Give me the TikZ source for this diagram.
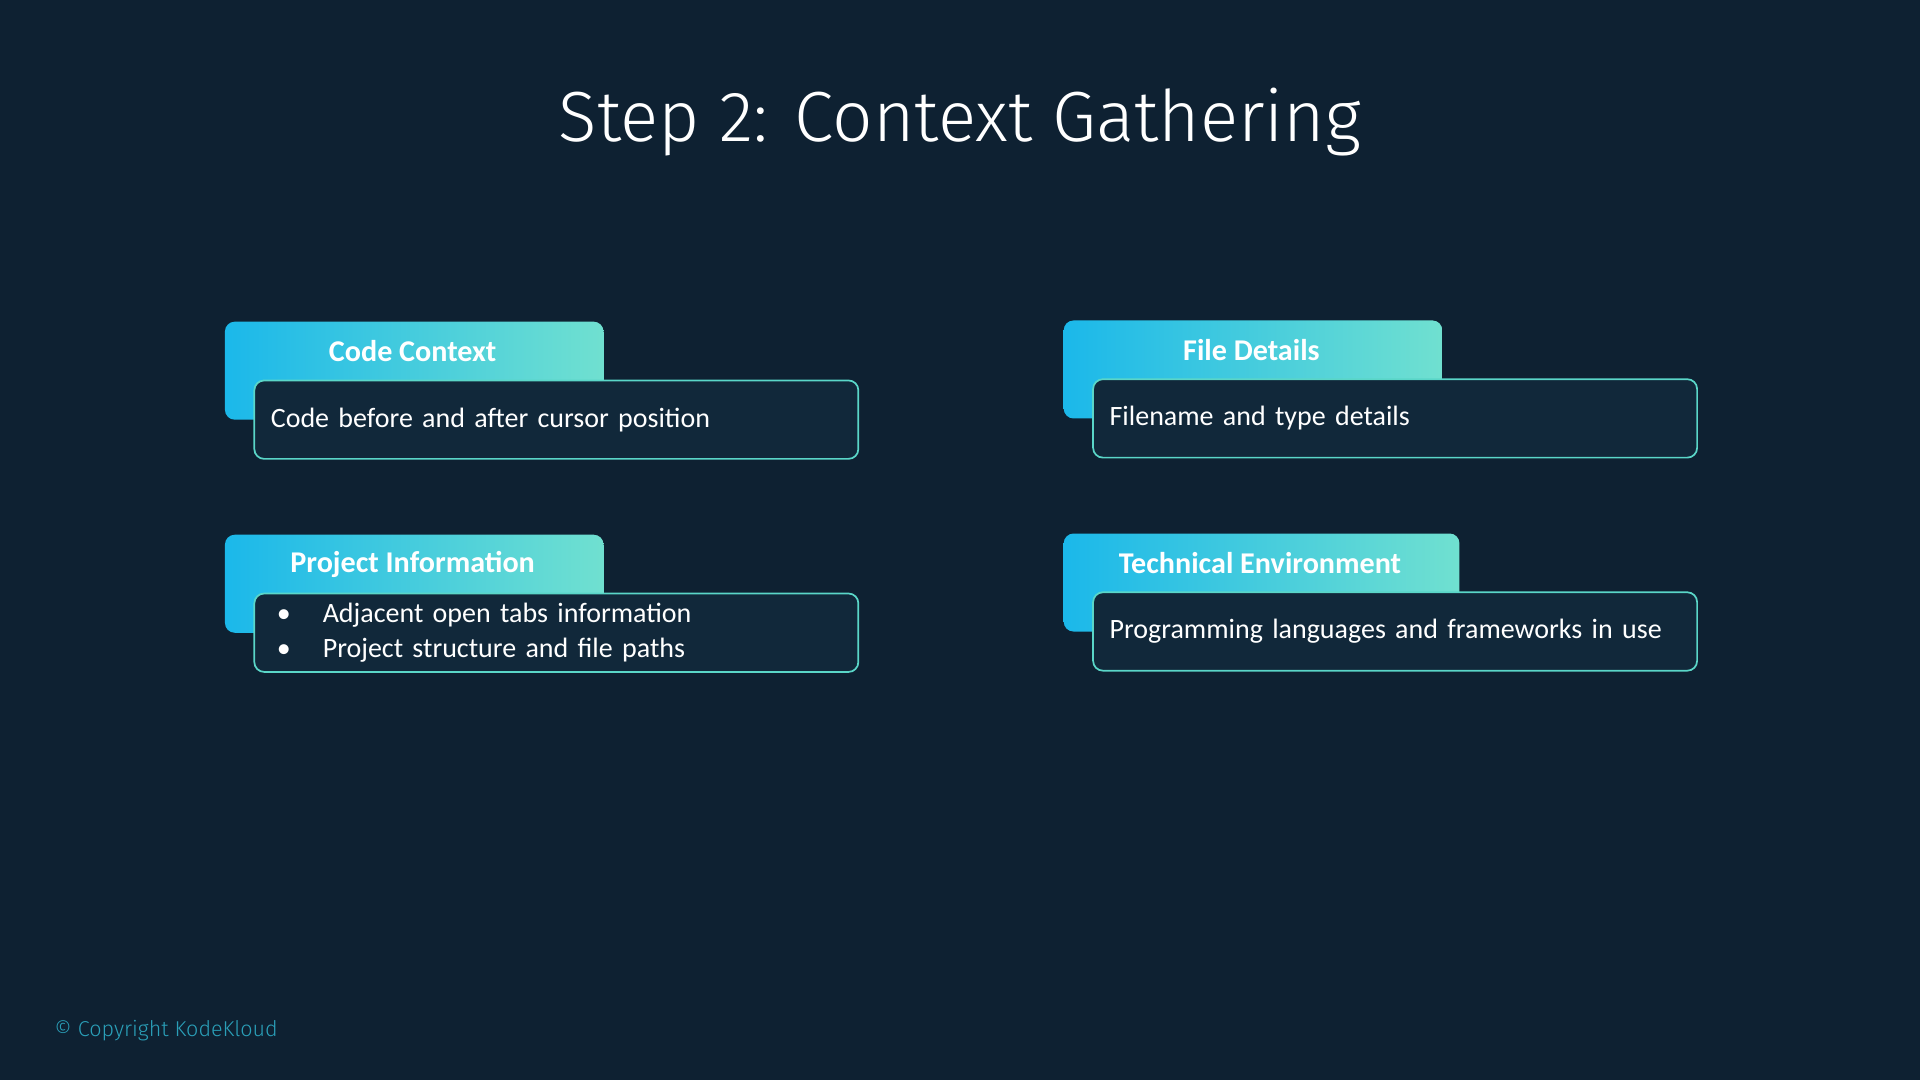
\documentclass[tikz,border=0pt]{standalone}
\usepackage{fontspec}
\setmainfont{Carlito}
\newfontfamily\titlefont{Fira Sans Light}
\usetikzlibrary{positioning}
\definecolor{bgdark}{HTML}{0E2132}
\definecolor{boxdark}{HTML}{11283A}
\definecolor{edgeteal}{HTML}{5AD6C8}
\definecolor{tabcyan}{HTML}{1BB8EA}
\definecolor{tabteal}{HTML}{70E0D0}
\definecolor{copyteal}{HTML}{2A9FB8}
\tikzset{
    tab/.style = {rectangle, rounded corners=0.08cm, left color=tabcyan, right color=tabteal,
                  minimum width=3.09cm, minimum height=0.8cm, anchor=north west},
    body/.style = {rectangle, rounded corners=0.08cm, draw=edgeteal, line width=0.4pt, fill=boxdark,
                   minimum width=4.93cm, minimum height=0.64cm, anchor=north west, inner ysep=0pt,
                   inner xsep=0.12cm, text width=4.66cm, align=left,
                   font=\fontsize{6.5pt}{8.2pt}\selectfont, text=white},
    tabtext/.style = {font=\bfseries\fontsize{7pt}{9pt}\selectfont, text=white}
}
\begin{document}
\begin{tikzpicture}[x=0.01cm, y=-0.01cm]
    \useasboundingbox[fill=bgdark] (0,0) rectangle (1568,882);
    \node (title) [text=white, font=\titlefont\fontsize{16.5pt}{20pt}\selectfont] at (784,100) {Step 2: Context Gathering};

    % code context
    \node (tab_code) [tab] at (183,262) {};
    \node (body_code) [body] at (207,310) {Code before and after cursor position};
    \node (lbl_code) [tabtext] at (337,287) {Code Context};

    % file details
    \node (tab_file) [tab] at (868,261) {};
    \node (body_file) [body] at (892,309) {Filename and type details};
    \node (lbl_file) [tabtext] at (1022,286) {File Details};

    % project information
    \node (tab_proj) [tab] at (183,436) {};
    \node (body_proj) [body] at (207,484) {\hspace*{0.05cm}\textbullet\hspace{0.26cm}Adjacent open tabs information\\\hspace*{0.05cm}\textbullet\hspace{0.26cm}Project structure and file paths};
    \node (lbl_proj) [tabtext] at (337,461) {Project Information};

    % technical environment
    \node (tab_tech) [tab, minimum width=3.23cm] at (868,435) {};
    \node (body_tech) [body] at (892,483) {Programming languages and frameworks in use};
    \node (lbl_tech) [tabtext] at (1029,460) {Technical Environment};

    \node (copy) [anchor=west, text=copyteal, font=\titlefont\fontsize{5pt}{6pt}\selectfont] at (32,842) {\textcopyright{} Copyright KodeKloud};
\end{tikzpicture}
\end{document}
